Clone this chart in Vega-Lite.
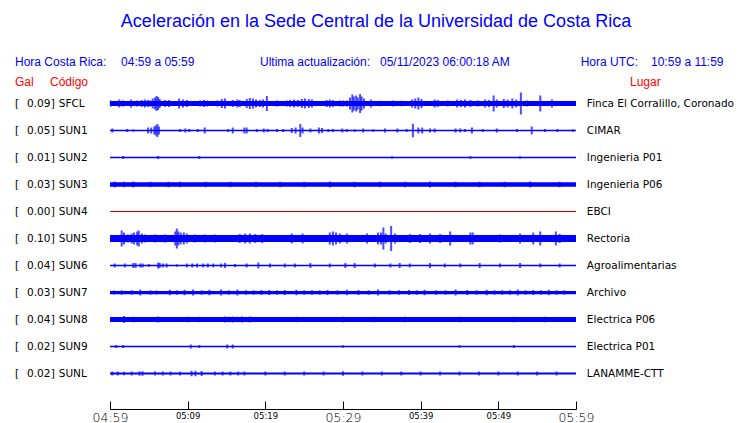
{
  "$schema": "https://vega.github.io/schema/vega-lite/v6.json",
  "width": 466,
  "height": 378,
  "autosize": {"type": "none"},
  "padding": {"left": 110, "top": 9, "right": 164, "bottom": 36},
  "background": "white",
  "config": {"view": {"stroke": null}, "font": "DejaVu Sans"},
  "datasets": {
    "estaciones": [
      {"est": "SFCL", "gal": 0.09, "lugar": "Finca El Corralillo, Coronado", "ruido": 0.016},
      {"est": "SUN1", "gal": 0.05, "lugar": "CIMAR", "ruido": 0.002},
      {"est": "SUN2", "gal": 0.01, "lugar": "Ingenieria P01", "ruido": 0.002},
      {"est": "SUN3", "gal": 0.03, "lugar": "Ingenieria P06", "ruido": 0.014},
      {"est": "SUN4", "gal": 0.0, "lugar": "EBCI", "ruido": 0.0},
      {"est": "SUN5", "gal": 0.10, "lugar": "Rectoria", "ruido": 0.024},
      {"est": "SUN6", "gal": 0.04, "lugar": "Agroalimentarias", "ruido": 0.002},
      {"est": "SUN7", "gal": 0.03, "lugar": "Archivo", "ruido": 0.009},
      {"est": "SUN8", "gal": 0.04, "lugar": "Electrica P06", "ruido": 0.016},
      {"est": "SUN9", "gal": 0.02, "lugar": "Electrica P01", "ruido": 0.002},
      {"est": "SUNL", "gal": 0.02, "lugar": "LANAMME-CTT", "ruido": 0.004}
    ],
    "senal": [
      {"est": "SFCL", "min": 0.1, "amp": 0.02}, {"est": "SFCL", "min": 1.2, "amp": 0.028}, {"est": "SFCL", "min": 1.7, "amp": 0.02},
      {"est": "SFCL", "min": 2.3, "amp": 0.016}, {"est": "SFCL", "min": 2.7, "amp": 0.028}, {"est": "SFCL", "min": 3.5, "amp": 0.02},
      {"est": "SFCL", "min": 4.1, "amp": 0.024}, {"est": "SFCL", "min": 4.5, "amp": 0.028}, {"est": "SFCL", "min": 4.9, "amp": 0.024},
      {"est": "SFCL", "min": 5.2, "amp": 0.02}, {"est": "SFCL", "min": 5.5, "amp": 0.036}, {"est": "SFCL", "min": 5.8, "amp": 0.044},
      {"est": "SFCL", "min": 6.0, "amp": 0.056}, {"est": "SFCL", "min": 6.2, "amp": 0.048}, {"est": "SFCL", "min": 6.4, "amp": 0.032},
      {"est": "SFCL", "min": 7.1, "amp": 0.024}, {"est": "SFCL", "min": 7.6, "amp": 0.024}, {"est": "SFCL", "min": 8.9, "amp": 0.036},
      {"est": "SFCL", "min": 9.4, "amp": 0.028}, {"est": "SFCL", "min": 9.9, "amp": 0.024}, {"est": "SFCL", "min": 11.6, "amp": 0.02},
      {"est": "SFCL", "min": 12.1, "amp": 0.024}, {"est": "SFCL", "min": 12.5, "amp": 0.02}, {"est": "SFCL", "min": 13.8, "amp": 0.02},
      {"est": "SFCL", "min": 14.4, "amp": 0.032}, {"est": "SFCL", "min": 14.8, "amp": 0.036}, {"est": "SFCL", "min": 15.8, "amp": 0.024},
      {"est": "SFCL", "min": 16.4, "amp": 0.028}, {"est": "SFCL", "min": 16.7, "amp": 0.024}, {"est": "SFCL", "min": 17.6, "amp": 0.032},
      {"est": "SFCL", "min": 18.0, "amp": 0.04}, {"est": "SFCL", "min": 18.4, "amp": 0.036}, {"est": "SFCL", "min": 18.8, "amp": 0.028},
      {"est": "SFCL", "min": 19.3, "amp": 0.024}, {"est": "SFCL", "min": 19.7, "amp": 0.028}, {"est": "SFCL", "min": 20.2, "amp": 0.056},
      {"est": "SFCL", "min": 21.5, "amp": 0.02}, {"est": "SFCL", "min": 22.8, "amp": 0.02}, {"est": "SFCL", "min": 23.2, "amp": 0.024},
      {"est": "SFCL", "min": 23.7, "amp": 0.028}, {"est": "SFCL", "min": 24.2, "amp": 0.024}, {"est": "SFCL", "min": 24.7, "amp": 0.032},
      {"est": "SFCL", "min": 25.1, "amp": 0.036}, {"est": "SFCL", "min": 25.6, "amp": 0.032}, {"est": "SFCL", "min": 26.0, "amp": 0.028},
      {"est": "SFCL", "min": 27.9, "amp": 0.024}, {"est": "SFCL", "min": 28.3, "amp": 0.028}, {"est": "SFCL", "min": 28.7, "amp": 0.024},
      {"est": "SFCL", "min": 29.6, "amp": 0.02}, {"est": "SFCL", "min": 30.0, "amp": 0.02}, {"est": "SFCL", "min": 30.5, "amp": 0.02},
      {"est": "SFCL", "min": 30.9, "amp": 0.044}, {"est": "SFCL", "min": 31.2, "amp": 0.068}, {"est": "SFCL", "min": 31.4, "amp": 0.052},
      {"est": "SFCL", "min": 31.7, "amp": 0.06}, {"est": "SFCL", "min": 31.9, "amp": 0.044}, {"est": "SFCL", "min": 32.2, "amp": 0.072},
      {"est": "SFCL", "min": 32.4, "amp": 0.052}, {"est": "SFCL", "min": 32.7, "amp": 0.036}, {"est": "SFCL", "min": 33.6, "amp": 0.028},
      {"est": "SFCL", "min": 34.8, "amp": 0.018}, {"est": "SFCL", "min": 36.4, "amp": 0.02}, {"est": "SFCL", "min": 37.5, "amp": 0.018},
      {"est": "SFCL", "min": 38.9, "amp": 0.028}, {"est": "SFCL", "min": 39.3, "amp": 0.036},
      {"est": "SFCL", "min": 39.7, "amp": 0.044}, {"est": "SFCL", "min": 40.1, "amp": 0.032}, {"est": "SFCL", "min": 41.8, "amp": 0.028},
      {"est": "SFCL", "min": 42.2, "amp": 0.024}, {"est": "SFCL", "min": 43.5, "amp": 0.02}, {"est": "SFCL", "min": 44.7, "amp": 0.028},
      {"est": "SFCL", "min": 45.2, "amp": 0.024}, {"est": "SFCL", "min": 45.7, "amp": 0.028}, {"est": "SFCL", "min": 46.4, "amp": 0.024},
      {"est": "SFCL", "min": 47.4, "amp": 0.02}, {"est": "SFCL", "min": 48.3, "amp": 0.028}, {"est": "SFCL", "min": 48.8, "amp": 0.024},
      {"est": "SFCL", "min": 49.4, "amp": 0.06}, {"est": "SFCL", "min": 49.8, "amp": 0.028}, {"est": "SFCL", "min": 50.7, "amp": 0.032},
      {"est": "SFCL", "min": 51.2, "amp": 0.028}, {"est": "SFCL", "min": 51.8, "amp": 0.036}, {"est": "SFCL", "min": 52.3, "amp": 0.028},
      {"est": "SFCL", "min": 52.9, "amp": 0.084}, {"est": "SFCL", "min": 53.7, "amp": 0.02}, {"est": "SFCL", "min": 55.4, "amp": 0.06},
      {"est": "SFCL", "min": 56.9, "amp": 0.028}, {"est": "SFCL", "min": 58.3, "amp": 0.016}, {"est": "SFCL", "min": 59.2, "amp": 0.016},

      {"est": "SUN1", "min": 0.3, "amp": 0.012}, {"est": "SUN1", "min": 2.2, "amp": 0.008}, {"est": "SUN1", "min": 3.0, "amp": 0.005},
      {"est": "SUN1", "min": 4.9, "amp": 0.02}, {"est": "SUN1", "min": 5.3, "amp": 0.02}, {"est": "SUN1", "min": 5.7, "amp": 0.028},
      {"est": "SUN1", "min": 5.9, "amp": 0.036}, {"est": "SUN1", "min": 6.1, "amp": 0.048}, {"est": "SUN1", "min": 6.3, "amp": 0.028},
      {"est": "SUN1", "min": 9.0, "amp": 0.008}, {"est": "SUN1", "min": 9.7, "amp": 0.012}, {"est": "SUN1", "min": 10.2, "amp": 0.008},
      {"est": "SUN1", "min": 11.3, "amp": 0.008}, {"est": "SUN1", "min": 12.2, "amp": 0.02}, {"est": "SUN1", "min": 15.2, "amp": 0.008},
      {"est": "SUN1", "min": 15.8, "amp": 0.02}, {"est": "SUN1", "min": 17.3, "amp": 0.02}, {"est": "SUN1", "min": 17.6, "amp": 0.02},
      {"est": "SUN1", "min": 18.9, "amp": 0.008}, {"est": "SUN1", "min": 19.8, "amp": 0.012}, {"est": "SUN1", "min": 20.3, "amp": 0.008},
      {"est": "SUN1", "min": 21.5, "amp": 0.008}, {"est": "SUN1", "min": 22.3, "amp": 0.008}, {"est": "SUN1", "min": 23.4, "amp": 0.016},
      {"est": "SUN1", "min": 23.9, "amp": 0.02}, {"est": "SUN1", "min": 24.5, "amp": 0.048}, {"est": "SUN1", "min": 24.8, "amp": 0.02},
      {"est": "SUN1", "min": 25.8, "amp": 0.012}, {"est": "SUN1", "min": 26.9, "amp": 0.02}, {"est": "SUN1", "min": 27.3, "amp": 0.016},
      {"est": "SUN1", "min": 28.1, "amp": 0.008}, {"est": "SUN1", "min": 28.7, "amp": 0.008}, {"est": "SUN1", "min": 29.9, "amp": 0.012},
      {"est": "SUN1", "min": 30.5, "amp": 0.008}, {"est": "SUN1", "min": 31.5, "amp": 0.006}, {"est": "SUN1", "min": 32.6, "amp": 0.012},
      {"est": "SUN1", "min": 33.9, "amp": 0.006}, {"est": "SUN1", "min": 35.4, "amp": 0.012}, {"est": "SUN1", "min": 37.0, "amp": 0.012},
      {"est": "SUN1", "min": 38.2, "amp": 0.008}, {"est": "SUN1", "min": 39.0, "amp": 0.05}, {"est": "SUN1", "min": 39.7, "amp": 0.02},
      {"est": "SUN1", "min": 40.2, "amp": 0.02}, {"est": "SUN1", "min": 41.2, "amp": 0.012}, {"est": "SUN1", "min": 41.8, "amp": 0.012},
      {"est": "SUN1", "min": 44.5, "amp": 0.012}, {"est": "SUN1", "min": 45.1, "amp": 0.012}, {"est": "SUN1", "min": 45.7, "amp": 0.008},
      {"est": "SUN1", "min": 46.6, "amp": 0.02}, {"est": "SUN1", "min": 48.0, "amp": 0.008}, {"est": "SUN1", "min": 49.8, "amp": 0.012},
      {"est": "SUN1", "min": 52.4, "amp": 0.008}, {"est": "SUN1", "min": 54.3, "amp": 0.028}, {"est": "SUN1", "min": 56.0, "amp": 0.008},
      {"est": "SUN1", "min": 57.6, "amp": 0.008}, {"est": "SUN1", "min": 59.6, "amp": 0.006},

      {"est": "SUN2", "min": 1.7, "amp": 0.008}, {"est": "SUN2", "min": 6.2, "amp": 0.008}, {"est": "SUN2", "min": 11.5, "amp": 0.008},
      {"est": "SUN2", "min": 36.3, "amp": 0.006}, {"est": "SUN2", "min": 46.4, "amp": 0.006}, {"est": "SUN2", "min": 52.8, "amp": 0.006},

      {"est": "SUN3", "min": 0.6, "amp": 0.02}, {"est": "SUN3", "min": 1.8, "amp": 0.018}, {"est": "SUN3", "min": 3.0, "amp": 0.02},
      {"est": "SUN3", "min": 5.2, "amp": 0.018}, {"est": "SUN3", "min": 7.5, "amp": 0.018},
      {"est": "SUN3", "min": 9.0, "amp": 0.018}, {"est": "SUN3", "min": 12.3, "amp": 0.018}, {"est": "SUN3", "min": 15.5, "amp": 0.018},
      {"est": "SUN3", "min": 18.8, "amp": 0.018}, {"est": "SUN3", "min": 21.9, "amp": 0.018}, {"est": "SUN3", "min": 25.0, "amp": 0.018},
      {"est": "SUN3", "min": 28.3, "amp": 0.02}, {"est": "SUN3", "min": 31.5, "amp": 0.018}, {"est": "SUN3", "min": 34.8, "amp": 0.018},
      {"est": "SUN3", "min": 38.0, "amp": 0.018}, {"est": "SUN3", "min": 41.2, "amp": 0.02}, {"est": "SUN3", "min": 44.5, "amp": 0.018},
      {"est": "SUN3", "min": 47.6, "amp": 0.018}, {"est": "SUN3", "min": 50.8, "amp": 0.018}, {"est": "SUN3", "min": 54.1, "amp": 0.02},
      {"est": "SUN3", "min": 57.9, "amp": 0.018},

      {"est": "SUN5", "min": 1.5, "amp": 0.06}, {"est": "SUN5", "min": 1.8, "amp": 0.044}, {"est": "SUN5", "min": 2.3, "amp": 0.028},
      {"est": "SUN5", "min": 2.8, "amp": 0.036}, {"est": "SUN5", "min": 3.1, "amp": 0.044}, {"est": "SUN5", "min": 3.5, "amp": 0.052},
      {"est": "SUN5", "min": 3.7, "amp": 0.06}, {"est": "SUN5", "min": 4.1, "amp": 0.036}, {"est": "SUN5", "min": 4.5, "amp": 0.028},
      {"est": "SUN5", "min": 5.8, "amp": 0.028}, {"est": "SUN5", "min": 7.1, "amp": 0.028}, {"est": "SUN5", "min": 8.4, "amp": 0.052},
      {"est": "SUN5", "min": 8.6, "amp": 0.076}, {"est": "SUN5", "min": 8.8, "amp": 0.052}, {"est": "SUN5", "min": 9.1, "amp": 0.044},
      {"est": "SUN5", "min": 9.5, "amp": 0.044}, {"est": "SUN5", "min": 9.9, "amp": 0.036}, {"est": "SUN5", "min": 10.9, "amp": 0.028},
      {"est": "SUN5", "min": 12.2, "amp": 0.028}, {"est": "SUN5", "min": 13.5, "amp": 0.028}, {"est": "SUN5", "min": 16.7, "amp": 0.032},
      {"est": "SUN5", "min": 17.4, "amp": 0.036}, {"est": "SUN5", "min": 18.0, "amp": 0.036}, {"est": "SUN5", "min": 18.7, "amp": 0.032},
      {"est": "SUN5", "min": 19.6, "amp": 0.032}, {"est": "SUN5", "min": 23.4, "amp": 0.036}, {"est": "SUN5", "min": 24.8, "amp": 0.036},
      {"est": "SUN5", "min": 28.3, "amp": 0.044}, {"est": "SUN5", "min": 28.7, "amp": 0.052}, {"est": "SUN5", "min": 29.1, "amp": 0.044},
      {"est": "SUN5", "min": 29.6, "amp": 0.036}, {"est": "SUN5", "min": 30.5, "amp": 0.036}, {"est": "SUN5", "min": 33.1, "amp": 0.036},
      {"est": "SUN5", "min": 34.5, "amp": 0.044}, {"est": "SUN5", "min": 34.9, "amp": 0.044}, {"est": "SUN5", "min": 35.2, "amp": 0.084},
      {"est": "SUN5", "min": 35.5, "amp": 0.036}, {"est": "SUN5", "min": 36.2, "amp": 0.096}, {"est": "SUN5", "min": 36.7, "amp": 0.036},
      {"est": "SUN5", "min": 38.6, "amp": 0.032}, {"est": "SUN5", "min": 39.9, "amp": 0.032}, {"est": "SUN5", "min": 41.2, "amp": 0.036},
      {"est": "SUN5", "min": 42.5, "amp": 0.032}, {"est": "SUN5", "min": 43.8, "amp": 0.052}, {"est": "SUN5", "min": 46.4, "amp": 0.044},
      {"est": "SUN5", "min": 46.7, "amp": 0.044}, {"est": "SUN5", "min": 50.2, "amp": 0.028}, {"est": "SUN5", "min": 52.8, "amp": 0.036},
      {"est": "SUN5", "min": 54.5, "amp": 0.044}, {"est": "SUN5", "min": 55.4, "amp": 0.052}, {"est": "SUN5", "min": 57.4, "amp": 0.052},
      {"est": "SUN5", "min": 57.9, "amp": 0.032},

      {"est": "SUN6", "min": 0.6, "amp": 0.012}, {"est": "SUN6", "min": 1.9, "amp": 0.012}, {"est": "SUN6", "min": 3.0, "amp": 0.016},
      {"est": "SUN6", "min": 3.3, "amp": 0.016}, {"est": "SUN6", "min": 3.9, "amp": 0.012}, {"est": "SUN6", "min": 4.2, "amp": 0.012},
      {"est": "SUN6", "min": 5.0, "amp": 0.008}, {"est": "SUN6", "min": 6.2, "amp": 0.02}, {"est": "SUN6", "min": 6.4, "amp": 0.016},
      {"est": "SUN6", "min": 6.8, "amp": 0.012}, {"est": "SUN6", "min": 7.3, "amp": 0.012}, {"est": "SUN6", "min": 8.6, "amp": 0.006},
      {"est": "SUN6", "min": 9.9, "amp": 0.012}, {"est": "SUN6", "min": 10.6, "amp": 0.012}, {"est": "SUN6", "min": 11.2, "amp": 0.012},
      {"est": "SUN6", "min": 12.0, "amp": 0.012}, {"est": "SUN6", "min": 12.6, "amp": 0.012}, {"est": "SUN6", "min": 13.3, "amp": 0.012},
      {"est": "SUN6", "min": 14.3, "amp": 0.012}, {"est": "SUN6", "min": 14.8, "amp": 0.016}, {"est": "SUN6", "min": 16.1, "amp": 0.008},
      {"est": "SUN6", "min": 17.6, "amp": 0.012}, {"est": "SUN6", "min": 19.1, "amp": 0.02}, {"est": "SUN6", "min": 20.6, "amp": 0.012},
      {"est": "SUN6", "min": 22.5, "amp": 0.012}, {"est": "SUN6", "min": 23.8, "amp": 0.012}, {"est": "SUN6", "min": 25.8, "amp": 0.016},
      {"est": "SUN6", "min": 28.3, "amp": 0.012}, {"est": "SUN6", "min": 30.3, "amp": 0.016}, {"est": "SUN6", "min": 31.5, "amp": 0.016},
      {"est": "SUN6", "min": 34.1, "amp": 0.012}, {"est": "SUN6", "min": 36.1, "amp": 0.012}, {"est": "SUN6", "min": 37.3, "amp": 0.016},
      {"est": "SUN6", "min": 38.6, "amp": 0.012}, {"est": "SUN6", "min": 41.2, "amp": 0.016}, {"est": "SUN6", "min": 43.1, "amp": 0.012},
      {"est": "SUN6", "min": 45.1, "amp": 0.012}, {"est": "SUN6", "min": 47.6, "amp": 0.016}, {"est": "SUN6", "min": 50.2, "amp": 0.012},
      {"est": "SUN6", "min": 52.8, "amp": 0.016}, {"est": "SUN6", "min": 55.4, "amp": 0.012}, {"est": "SUN6", "min": 57.9, "amp": 0.012},

      {"est": "SUN7", "min": 0.5, "amp": 0.012}, {"est": "SUN7", "min": 1.5, "amp": 0.014}, {"est": "SUN7", "min": 2.8, "amp": 0.014},
      {"est": "SUN7", "min": 3.9, "amp": 0.02}, {"est": "SUN7", "min": 5.2, "amp": 0.014}, {"est": "SUN7", "min": 6.0, "amp": 0.012},
      {"est": "SUN7", "min": 7.7, "amp": 0.018}, {"est": "SUN7", "min": 8.6, "amp": 0.014}, {"est": "SUN7", "min": 9.6, "amp": 0.018}, {"est": "SUN7", "min": 10.7, "amp": 0.02},
      {"est": "SUN7", "min": 11.8, "amp": 0.014}, {"est": "SUN7", "min": 12.8, "amp": 0.018}, {"est": "SUN7", "min": 14.3, "amp": 0.02}, {"est": "SUN7", "min": 15.3, "amp": 0.014}, {"est": "SUN7", "min": 16.4, "amp": 0.02},
      {"est": "SUN7", "min": 17.5, "amp": 0.014}, {"est": "SUN7", "min": 18.5, "amp": 0.014}, {"est": "SUN7", "min": 19.5, "amp": 0.016}, {"est": "SUN7", "min": 20.5, "amp": 0.016}, {"est": "SUN7", "min": 21.5, "amp": 0.014}, {"est": "SUN7", "min": 22.5, "amp": 0.016},
      {"est": "SUN7", "min": 24.0, "amp": 0.018}, {"est": "SUN7", "min": 25.0, "amp": 0.014}, {"est": "SUN7", "min": 26.0, "amp": 0.014}, {"est": "SUN7", "min": 27.0, "amp": 0.014}, {"est": "SUN7", "min": 28.0, "amp": 0.016},
      {"est": "SUN7", "min": 29.3, "amp": 0.014}, {"est": "SUN7", "min": 30.5, "amp": 0.018}, {"est": "SUN7", "min": 32.0, "amp": 0.016}, {"est": "SUN7", "min": 33.3, "amp": 0.014}, {"est": "SUN7", "min": 34.5, "amp": 0.02},
      {"est": "SUN7", "min": 36.0, "amp": 0.014}, {"est": "SUN7", "min": 37.2, "amp": 0.014}, {"est": "SUN7", "min": 38.5, "amp": 0.016}, {"est": "SUN7", "min": 39.5, "amp": 0.014}, {"est": "SUN7", "min": 40.5, "amp": 0.018},
      {"est": "SUN7", "min": 42.0, "amp": 0.014}, {"est": "SUN7", "min": 43.2, "amp": 0.014}, {"est": "SUN7", "min": 44.5, "amp": 0.02}, {"est": "SUN7", "min": 46.0, "amp": 0.016},
      {"est": "SUN7", "min": 47.2, "amp": 0.014}, {"est": "SUN7", "min": 48.5, "amp": 0.018}, {"est": "SUN7", "min": 49.5, "amp": 0.014}, {"est": "SUN7", "min": 50.5, "amp": 0.014}, {"est": "SUN7", "min": 51.5, "amp": 0.014}, {"est": "SUN7", "min": 52.5, "amp": 0.02},
      {"est": "SUN7", "min": 53.5, "amp": 0.014}, {"est": "SUN7", "min": 54.5, "amp": 0.016}, {"est": "SUN7", "min": 55.5, "amp": 0.014}, {"est": "SUN7", "min": 56.5, "amp": 0.018}, {"est": "SUN7", "min": 57.5, "amp": 0.014}, {"est": "SUN7", "min": 58.5, "amp": 0.014},

      {"est": "SUN8", "min": 1.8, "amp": 0.024}, {"est": "SUN8", "min": 3.0, "amp": 0.018}, {"est": "SUN8", "min": 6.2, "amp": 0.02},
      {"est": "SUN8", "min": 10.0, "amp": 0.018}, {"est": "SUN8", "min": 11.5, "amp": 0.018}, {"est": "SUN8", "min": 14.8, "amp": 0.02},
      {"est": "SUN8", "min": 15.3, "amp": 0.018}, {"est": "SUN8", "min": 15.8, "amp": 0.02}, {"est": "SUN8", "min": 16.4, "amp": 0.018}, {"est": "SUN8", "min": 17.0, "amp": 0.02}, {"est": "SUN8", "min": 18.0, "amp": 0.02},
      {"est": "SUN8", "min": 24.0, "amp": 0.018}, {"est": "SUN8", "min": 30.0, "amp": 0.018}, {"est": "SUN8", "min": 34.0, "amp": 0.018}, {"est": "SUN8", "min": 38.0, "amp": 0.018}, {"est": "SUN8", "min": 45.0, "amp": 0.018},
      {"est": "SUN8", "min": 52.0, "amp": 0.018}, {"est": "SUN8", "min": 56.0, "amp": 0.018},

      {"est": "SUN9", "min": 0.8, "amp": 0.008}, {"est": "SUN9", "min": 1.7, "amp": 0.008}, {"est": "SUN9", "min": 10.4, "amp": 0.012},
      {"est": "SUN9", "min": 11.5, "amp": 0.008}, {"est": "SUN9", "min": 15.1, "amp": 0.012}, {"est": "SUN9", "min": 15.8, "amp": 0.012},
      {"est": "SUN9", "min": 30.0, "amp": 0.006}, {"est": "SUN9", "min": 45.0, "amp": 0.006}, {"est": "SUN9", "min": 52.0, "amp": 0.008},

      {"est": "SUNL", "min": 0.3, "amp": 0.012}, {"est": "SUNL", "min": 1.0, "amp": 0.012}, {"est": "SUNL", "min": 1.8, "amp": 0.01},
      {"est": "SUNL", "min": 2.8, "amp": 0.012}, {"est": "SUNL", "min": 3.8, "amp": 0.014}, {"est": "SUNL", "min": 4.2, "amp": 0.014},
      {"est": "SUNL", "min": 5.8, "amp": 0.012}, {"est": "SUNL", "min": 6.8, "amp": 0.012}, {"est": "SUNL", "min": 7.8, "amp": 0.012},
      {"est": "SUNL", "min": 9.0, "amp": 0.012}, {"est": "SUNL", "min": 10.5, "amp": 0.018}, {"est": "SUNL", "min": 11.0, "amp": 0.018},
      {"est": "SUNL", "min": 11.8, "amp": 0.016}, {"est": "SUNL", "min": 13.5, "amp": 0.012}, {"est": "SUNL", "min": 14.5, "amp": 0.012},
      {"est": "SUNL", "min": 15.5, "amp": 0.012}, {"est": "SUNL", "min": 16.5, "amp": 0.012}, {"est": "SUNL", "min": 17.3, "amp": 0.012},
      {"est": "SUNL", "min": 20.0, "amp": 0.012}, {"est": "SUNL", "min": 22.5, "amp": 0.012}, {"est": "SUNL", "min": 25.0, "amp": 0.012}, {"est": "SUNL", "min": 27.5, "amp": 0.012}, {"est": "SUNL", "min": 30.0, "amp": 0.014},
      {"est": "SUNL", "min": 32.5, "amp": 0.012}, {"est": "SUNL", "min": 35.0, "amp": 0.012}, {"est": "SUNL", "min": 37.5, "amp": 0.012}, {"est": "SUNL", "min": 40.0, "amp": 0.012}, {"est": "SUNL", "min": 42.5, "amp": 0.012}, {"est": "SUNL", "min": 45.0, "amp": 0.012},
      {"est": "SUNL", "min": 47.5, "amp": 0.012}, {"est": "SUNL", "min": 50.0, "amp": 0.012}, {"est": "SUNL", "min": 52.5, "amp": 0.012}, {"est": "SUNL", "min": 55.0, "amp": 0.012}, {"est": "SUNL", "min": 57.5, "amp": 0.012}
    ]
  },
  "layer": [
    {
      "data": {"name": "senal"},
      "mark": {"type": "tick", "orient": "vertical", "thickness": 2, "color": "#0000ff"},
      "encoding": {
        "x": {"field": "min", "type": "quantitative",
              "scale": {"domain": [0, 60], "nice": false, "zero": false},
              "axis": {"title": null, "values": [0, 5, 10, 15, 20, 25, 30, 35, 40, 45, 50, 55, 60],
                       "grid": false, "offset": 22, "domainColor": "black", "tickColor": "black",
                       "tickSize": -8, "labelPadding": 10, "labelColor": "black", "labelFont": "DejaVu Sans",
                       "labelFontWeight": {"condition": {"test": "datum.value % 30 == 0", "value": 200}, "value": "normal"},
                       "labelFontSize": {"condition": {"test": "datum.value % 30 == 0", "value": 12.5}, "value": 8.5},
                       "labelFlush": false, "labelOverlap": false,
                       "labelExpr": "datum.value == 0 ? '04:59' : datum.value == 10 ? '05:09' : datum.value == 20 ? '05:19' : datum.value == 30 ? '05:29' : datum.value == 40 ? '05:39' : datum.value == 50 ? '05:49' : datum.value == 60 ? '05:59' : ''"}},
        "y": {"field": "est", "type": "nominal", "axis": null,
              "scale": {"type": "point", "padding": 0.5, "domain": ["titulo", "enc1", "enc2", "SFCL", "SUN1", "SUN2", "SUN3", "SUN4", "SUN5", "SUN6", "SUN7", "SUN8", "SUN9", "SUNL"]}},
        "size": {"field": "amp", "type": "quantitative", "legend": null, "scale": {"domain": [0, 0.1], "range": [1, 26]}}
      }
    },
    {
      "data": {"name": "estaciones"},
      "mark": {"type": "rule", "strokeCap": "butt"},
      "encoding": {
        "x": {"datum": 0, "type": "quantitative"},
        "x2": {"datum": 60},
        "y": {"field": "est", "type": "nominal", "axis": null},
        "size": {"field": "ruido", "type": "quantitative", "legend": null, "scale": {"domain": [0, 0.1], "range": [1, 26]}},
        "color": {"condition": {"test": "datum.gal == 0", "value": "#cc0000"}, "value": "#0000ff"}
      }
    },
    {
      "data": {"name": "estaciones"},
      "mark": {"type": "text", "text": "[", "align": "left", "baseline": "middle", "fontSize": 10.5, "font": "DejaVu Sans", "color": "black"},
      "encoding": {"x": {"datum": -12.23}, "y": {"field": "est", "type": "nominal", "axis": null}}
    },
    {
      "data": {"name": "estaciones"},
      "mark": {"type": "text", "align": "right", "baseline": "middle", "fontSize": 10.5, "font": "DejaVu Sans", "color": "black"},
      "encoding": {"x": {"datum": -7.68}, "y": {"field": "est", "type": "nominal", "axis": null},
                   "text": {"field": "gal", "type": "quantitative", "format": ".2f"}}
    },
    {
      "data": {"name": "estaciones"},
      "mark": {"type": "text", "text": "]", "align": "left", "baseline": "middle", "fontSize": 10.5, "font": "DejaVu Sans", "color": "black"},
      "encoding": {"x": {"datum": -7.62}, "y": {"field": "est", "type": "nominal", "axis": null}}
    },
    {
      "data": {"name": "estaciones"},
      "mark": {"type": "text", "align": "left", "baseline": "middle", "fontSize": 10.5, "font": "DejaVu Sans", "color": "black"},
      "encoding": {"x": {"datum": -6.6}, "y": {"field": "est", "type": "nominal", "axis": null},
                   "text": {"field": "est", "type": "nominal"}}
    },
    {
      "data": {"name": "estaciones"},
      "mark": {"type": "text", "align": "left", "baseline": "middle", "fontSize": 10.5, "font": "DejaVu Sans", "color": "black"},
      "encoding": {"x": {"datum": 61.4}, "y": {"field": "est", "type": "nominal", "axis": null},
                   "text": {"field": "lugar", "type": "nominal"}}
    },
    {
      "data": {"values": [{}]},
      "mark": {"type": "text", "text": "Aceleración en la Sede Central de la Universidad de Costa Rica", "align": "center", "baseline": "middle", "fontSize": 18, "font": "Liberation Sans", "color": "#0000ff", "dy": -1},
      "encoding": {"x": {"datum": 34.25}, "y": {"datum": "titulo", "type": "nominal", "axis": null}}
    },
    {
      "data": {"values": [{}]},
      "mark": {"type": "text", "text": "Hora Costa Rica:", "align": "left", "baseline": "middle", "fontSize": 12, "font": "Liberation Sans", "color": "#0000ff", "dy": 12},
      "encoding": {"x": {"datum": -12.23}, "y": {"datum": "enc1", "type": "nominal", "axis": null}}
    },
    {
      "data": {"values": [{}]},
      "mark": {"type": "text", "text": "04:59 a 05:59", "align": "left", "baseline": "middle", "fontSize": 12, "font": "Liberation Sans", "color": "#0000ff", "dy": 12},
      "encoding": {"x": {"datum": 1.42}, "y": {"datum": "enc1", "type": "nominal", "axis": null}}
    },
    {
      "data": {"values": [{}]},
      "mark": {"type": "text", "text": "Ultima actualización:", "align": "left", "baseline": "middle", "fontSize": 12, "font": "Liberation Sans", "color": "#0000ff", "dy": 12},
      "encoding": {"x": {"datum": 19.31}, "y": {"datum": "enc1", "type": "nominal", "axis": null}}
    },
    {
      "data": {"values": [{}]},
      "mark": {"type": "text", "text": "05/11/2023 06:00:18 AM", "align": "left", "baseline": "middle", "fontSize": 12, "font": "Liberation Sans", "color": "#0000ff", "dy": 12},
      "encoding": {"x": {"datum": 34.76}, "y": {"datum": "enc1", "type": "nominal", "axis": null}}
    },
    {
      "data": {"values": [{}]},
      "mark": {"type": "text", "text": "Hora UTC:", "align": "left", "baseline": "middle", "fontSize": 12, "font": "Liberation Sans", "color": "#0000ff", "dy": 12},
      "encoding": {"x": {"datum": 60.6}, "y": {"datum": "enc1", "type": "nominal", "axis": null}}
    },
    {
      "data": {"values": [{}]},
      "mark": {"type": "text", "text": "10:59 a 11:59", "align": "left", "baseline": "middle", "fontSize": 12, "font": "Liberation Sans", "color": "#0000ff", "dy": 12},
      "encoding": {"x": {"datum": 69.66}, "y": {"datum": "enc1", "type": "nominal", "axis": null}}
    },
    {
      "data": {"values": [{}]},
      "mark": {"type": "text", "text": "Gal", "align": "left", "baseline": "middle", "fontSize": 12, "font": "Liberation Sans", "color": "#ff0000", "dy": 5},
      "encoding": {"x": {"datum": -12.23}, "y": {"datum": "enc2", "type": "nominal", "axis": null}}
    },
    {
      "data": {"values": [{}]},
      "mark": {"type": "text", "text": "Código", "align": "left", "baseline": "middle", "fontSize": 12, "font": "Liberation Sans", "color": "#ff0000", "dy": 5},
      "encoding": {"x": {"datum": -7.73}, "y": {"datum": "enc2", "type": "nominal", "axis": null}}
    },
    {
      "data": {"values": [{}]},
      "mark": {"type": "text", "text": "Lugar", "align": "left", "baseline": "middle", "fontSize": 12, "font": "Liberation Sans", "color": "#ff0000", "dy": 5},
      "encoding": {"x": {"datum": 66.95}, "y": {"datum": "enc2", "type": "nominal", "axis": null}}
    }
  ]
}
